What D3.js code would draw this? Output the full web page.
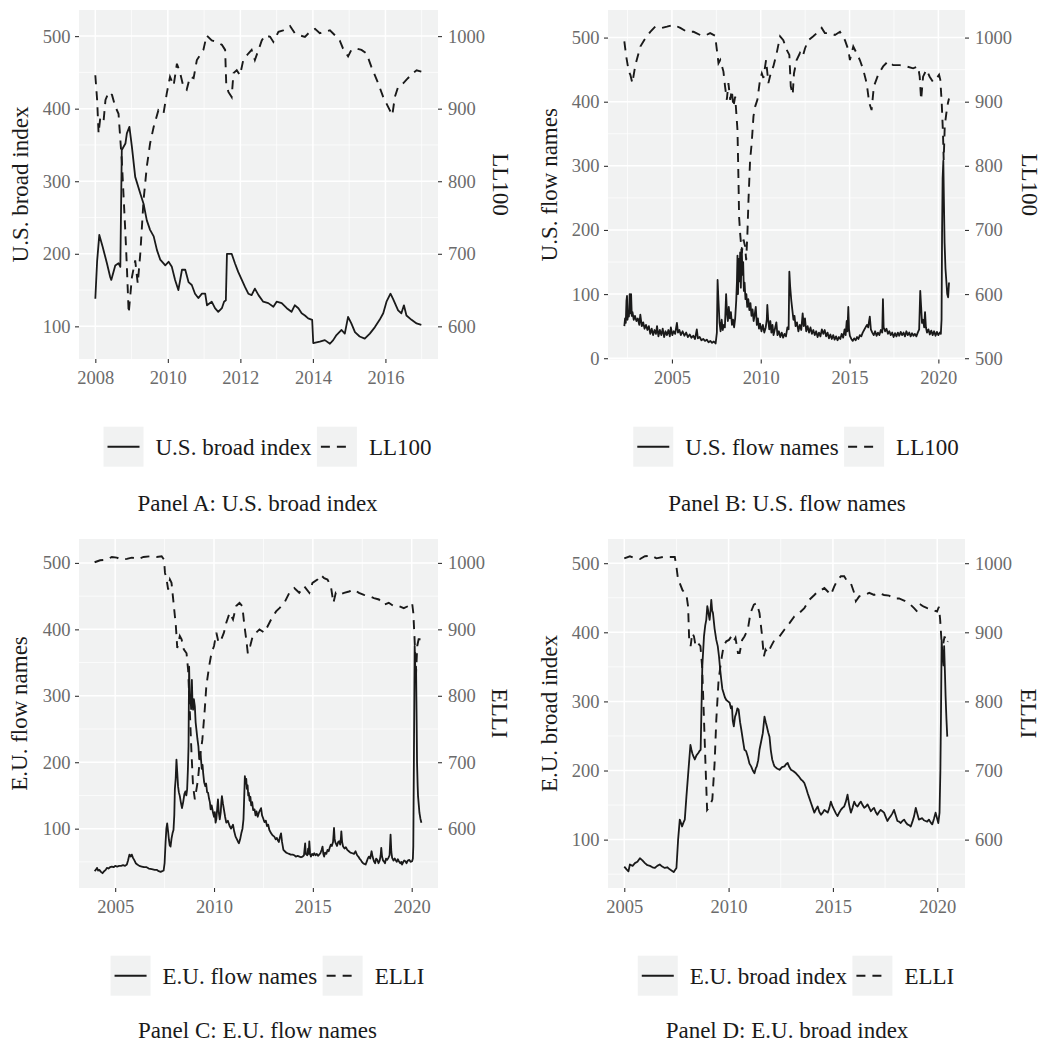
<!DOCTYPE html>
<html>
<head>
<meta charset="utf-8">
<script src="https://cdn.jsdelivr.net/npm/d3@7"></script>
<style>
body{margin:0;background:#fff}
svg{display:block}
</style>
</head>
<body>
<svg id="chart" width="1045" height="1042"></svg>
<script>
// ---- data (year, value) ----
var usBroad = [[2008.00,138],[2008.05,190],[2008.11,226],[2008.20,210],[2008.32,187],[2008.41,168],[2008.44,164],[2008.55,184],[2008.64,187],[2008.69,182],[2008.73,343],[2008.83,352],[2008.87,366],[2008.94,375],[2009.01,347],[2009.10,306],[2009.24,283],[2009.33,269],[2009.42,246],[2009.51,233],[2009.61,224],[2009.70,205],[2009.79,192],[2009.93,184],[2010.02,189],[2010.11,182],[2010.20,164],[2010.29,150],[2010.39,178],[2010.48,178],[2010.57,161],[2010.66,157],[2010.75,145],[2010.84,139],[2010.94,145],[2011.03,145],[2011.08,129],[2011.21,134],[2011.30,125],[2011.39,120],[2011.49,125],[2011.55,134],[2011.60,136],[2011.63,200],[2011.76,200],[2011.85,187],[2011.94,175],[2012.04,164],[2012.13,154],[2012.22,145],[2012.31,143],[2012.40,152],[2012.50,143],[2012.63,134],[2012.77,132],[2012.91,127],[2013.00,134],[2013.14,132],[2013.28,125],[2013.41,120],[2013.50,129],[2013.60,125],[2013.69,118],[2013.78,115],[2013.87,111],[2013.98,109],[2014.01,77],[2014.19,79],[2014.33,81],[2014.47,76],[2014.56,81],[2014.65,88],[2014.79,95],[2014.88,90],[2014.97,113],[2015.06,104],[2015.16,92],[2015.29,86],[2015.43,83],[2015.57,90],[2015.71,99],[2015.84,109],[2015.94,118],[2016.03,134],[2016.14,145],[2016.21,138],[2016.35,122],[2016.44,118],[2016.51,129],[2016.58,115],[2016.72,109],[2016.86,104],[2016.99,102]];
var usBroadLL100 = [[2008.00,946],[2008.05,912],[2008.09,866],[2008.14,889],[2008.23,884],[2008.28,912],[2008.37,923],[2008.46,919],[2008.55,903],[2008.64,893],[2008.73,829],[2008.83,728],[2008.87,682],[2008.92,618],[2009.01,668],[2009.10,691],[2009.17,659],[2009.24,700],[2009.33,774],[2009.42,820],[2009.51,852],[2009.61,875],[2009.74,898],[2009.88,893],[2009.97,921],[2010.06,944],[2010.16,932],[2010.25,962],[2010.34,949],[2010.43,930],[2010.52,926],[2010.61,944],[2010.71,942],[2010.80,967],[2010.89,974],[2010.98,981],[2011.07,1001],[2011.21,994],[2011.35,992],[2011.49,988],[2011.58,981],[2011.61,935],[2011.67,923],[2011.76,916],[2011.81,949],[2011.90,953],[2011.99,946],[2012.08,967],[2012.22,976],[2012.31,981],[2012.40,967],[2012.50,981],[2012.59,994],[2012.68,1001],[2012.82,999],[2012.91,992],[2013.05,1006],[2013.18,1008],[2013.37,1014],[2013.50,1004],[2013.64,1001],[2013.78,999],[2013.92,1006],[2014.06,1010],[2014.19,1004],[2014.33,1006],[2014.47,1008],[2014.61,1001],[2014.74,994],[2014.83,983],[2014.97,972],[2015.06,981],[2015.20,983],[2015.34,981],[2015.48,976],[2015.61,958],[2015.71,946],[2015.80,935],[2015.94,916],[2016.03,907],[2016.12,898],[2016.19,891],[2016.26,916],[2016.35,930],[2016.49,935],[2016.62,942],[2016.76,949],[2016.86,953],[2016.99,951]];

var usFlow = [[2002.32,50],[2002.36,62],[2002.40,55],[2002.44,90],[2002.47,97],[2002.50,60],[2002.54,72],[2002.58,65],[2002.62,100],[2002.66,70],[2002.70,100],[2002.74,66],[2002.78,72],[2002.85,60],[2002.92,66],[2003.00,58],[2003.08,62],[2003.16,52],[2003.22,68],[2003.30,50],[2003.38,56],[2003.46,46],[2003.54,52],[2003.62,44],[2003.70,50],[2003.78,38],[2003.86,46],[2003.94,36],[2004.02,44],[2004.10,38],[2004.16,50],[2004.24,34],[2004.32,44],[2004.40,36],[2004.48,46],[2004.56,33],[2004.64,42],[2004.72,36],[2004.80,44],[2004.88,34],[2004.94,48],[2005.02,36],[2005.10,42],[2005.18,38],[2005.28,55],[2005.34,40],[2005.42,44],[2005.50,36],[2005.60,42],[2005.70,35],[2005.80,40],[2005.90,33],[2006.00,37],[2006.10,32],[2006.20,35],[2006.30,30],[2006.40,45],[2006.46,31],[2006.56,33],[2006.66,28],[2006.76,30],[2006.86,27],[2006.96,29],[2007.06,25],[2007.16,27],[2007.26,24],[2007.36,26],[2007.46,23],[2007.53,40],[2007.57,122],[2007.62,90],[2007.68,55],[2007.74,42],[2007.80,60],[2007.86,44],[2007.92,52],[2007.98,48],[2008.05,100],[2008.10,70],[2008.15,58],[2008.20,80],[2008.26,62],[2008.32,72],[2008.38,52],[2008.44,60],[2008.50,48],[2008.56,62],[2008.62,90],[2008.66,120],[2008.69,160],[2008.72,100],[2008.76,155],[2008.80,120],[2008.84,165],[2008.88,110],[2008.93,172],[2008.97,130],[2009.01,150],[2009.05,105],[2009.09,118],[2009.14,92],[2009.19,100],[2009.24,80],[2009.30,92],[2009.36,75],[2009.42,86],[2009.48,66],[2009.54,76],[2009.60,58],[2009.66,68],[2009.72,80],[2009.78,52],[2009.84,62],[2009.90,46],[2009.96,54],[2010.04,42],[2010.12,52],[2010.20,40],[2010.28,48],[2010.34,60],[2010.37,83],[2010.42,60],[2010.48,45],[2010.54,58],[2010.60,40],[2010.66,52],[2010.72,36],[2010.80,46],[2010.88,56],[2010.94,36],[2011.02,42],[2011.10,33],[2011.18,40],[2011.26,32],[2011.34,38],[2011.42,34],[2011.50,48],[2011.57,45],[2011.61,135],[2011.66,110],[2011.72,90],[2011.78,75],[2011.84,60],[2011.90,66],[2011.96,50],[2012.04,56],[2012.12,42],[2012.20,52],[2012.28,44],[2012.36,70],[2012.42,50],[2012.49,62],[2012.56,42],[2012.64,50],[2012.72,40],[2012.80,48],[2012.88,38],[2012.96,44],[2013.04,36],[2013.12,42],[2013.20,33],[2013.28,40],[2013.36,34],[2013.44,45],[2013.52,38],[2013.60,44],[2013.68,34],[2013.76,40],[2013.84,31],[2013.92,37],[2014.00,30],[2014.08,36],[2014.16,29],[2014.24,34],[2014.32,28],[2014.40,33],[2014.48,30],[2014.56,38],[2014.64,32],[2014.72,45],[2014.78,36],[2014.84,58],[2014.88,42],[2014.93,80],[2014.97,45],[2015.02,35],[2015.10,30],[2015.18,27],[2015.26,31],[2015.34,28],[2015.42,33],[2015.50,30],[2015.58,36],[2015.66,34],[2015.74,40],[2015.82,44],[2015.90,48],[2015.98,52],[2016.05,48],[2016.10,58],[2016.14,65],[2016.20,45],[2016.28,40],[2016.36,36],[2016.44,42],[2016.52,35],[2016.60,40],[2016.68,36],[2016.76,44],[2016.84,40],[2016.88,92],[2016.92,48],[2017.00,42],[2017.08,46],[2017.16,38],[2017.24,42],[2017.32,36],[2017.40,40],[2017.48,33],[2017.56,39],[2017.64,34],[2017.72,40],[2017.80,35],[2017.88,41],[2017.96,36],[2018.04,40],[2018.12,34],[2018.20,42],[2018.28,36],[2018.36,40],[2018.44,34],[2018.52,39],[2018.60,35],[2018.68,38],[2018.76,34],[2018.84,40],[2018.92,45],[2018.98,105],[2019.03,80],[2019.08,55],[2019.14,60],[2019.20,48],[2019.25,72],[2019.30,48],[2019.36,40],[2019.44,45],[2019.52,37],[2019.60,43],[2019.68,36],[2019.76,42],[2019.84,35],[2019.92,41],[2020.00,36],[2020.08,40],[2020.14,38],[2020.18,60],[2020.21,200],[2020.24,280],[2020.28,308],[2020.31,250],[2020.35,180],[2020.40,140],[2020.45,120],[2020.50,100],[2020.55,95],[2020.60,118]];
var usFlowLL100 = [[2002.32,994],[2002.43,970],[2002.57,947],[2002.66,942],[2002.77,929],[2002.94,957],[2003.22,986],[2003.50,999],[2003.78,1009],[2004.06,1017],[2004.44,1015],[2004.72,1017],[2005.09,1020],[2005.47,1015],[2005.84,1009],[2006.22,1009],[2006.59,1004],[2006.87,1003],[2007.15,1007],[2007.43,1003],[2007.53,981],[2007.62,960],[2007.72,965],[2007.90,947],[2007.99,924],[2008.09,903],[2008.18,929],[2008.28,903],[2008.37,918],[2008.46,892],[2008.56,908],[2008.69,856],[2008.75,773],[2008.78,721],[2008.84,695],[2008.93,664],[2009.03,685],[2009.12,674],[2009.18,653],[2009.25,695],[2009.31,747],[2009.40,809],[2009.49,835],[2009.59,877],[2009.68,892],[2009.81,903],[2009.96,934],[2010.06,944],[2010.15,937],[2010.30,965],[2010.43,929],[2010.56,944],[2010.71,955],[2010.90,976],[2011.09,1002],[2011.27,996],[2011.46,981],[2011.61,973],[2011.69,924],[2011.80,911],[2011.87,944],[2012.02,965],[2012.21,976],[2012.36,970],[2012.49,983],[2012.68,996],[2012.96,1002],[2013.24,1009],[2013.43,1015],[2013.61,1007],[2013.90,1007],[2014.18,1004],[2014.46,1009],[2014.74,996],[2014.93,981],[2015.02,965],[2015.21,986],[2015.39,976],[2015.58,965],[2015.77,950],[2015.96,929],[2016.11,898],[2016.24,887],[2016.37,924],[2016.61,942],[2016.89,955],[2017.17,963],[2017.45,957],[2017.83,957],[2018.20,955],[2018.58,952],[2018.86,955],[2018.95,939],[2019.03,903],[2019.14,939],[2019.33,950],[2019.51,939],[2019.70,931],[2019.89,936],[2020.04,942],[2020.11,934],[2020.19,898],[2020.26,851],[2020.30,809],[2020.36,862],[2020.45,882],[2020.54,898],[2020.60,905]];

var euFlow = [[2003.96,36],[2004.02,38],[2004.08,41],[2004.14,37],[2004.20,38],[2004.28,35],[2004.36,33],[2004.44,36],[2004.52,38],[2004.58,41],[2004.66,40],[2004.74,42],[2004.83,43],[2004.92,42],[2005.00,44],[2005.10,43],[2005.20,44],[2005.30,44],[2005.40,45],[2005.50,44],[2005.59,46],[2005.65,52],[2005.72,61],[2005.78,58],[2005.84,61],[2005.90,56],[2005.96,53],[2006.04,48],[2006.12,46],[2006.22,44],[2006.34,43],[2006.46,42],[2006.59,42],[2006.70,40],[2006.85,39],[2007.00,38],[2007.10,38],[2007.20,36],[2007.30,35],[2007.38,36],[2007.45,37],[2007.50,48],[2007.55,80],[2007.59,100],[2007.63,108],[2007.68,95],[2007.72,83],[2007.76,75],[2007.80,73],[2007.85,85],[2007.90,93],[2007.95,98],[2007.99,120],[2008.02,160],[2008.06,175],[2008.10,204],[2008.14,185],[2008.18,164],[2008.22,155],[2008.27,149],[2008.32,140],[2008.38,131],[2008.44,140],[2008.50,152],[2008.55,156],[2008.60,150],[2008.64,159],[2008.68,190],[2008.71,224],[2008.74,344],[2008.77,300],[2008.81,299],[2008.84,280],[2008.88,324],[2008.91,290],[2008.94,279],[2008.98,295],[2009.03,284],[2009.07,260],[2009.11,249],[2009.16,235],[2009.21,224],[2009.25,205],[2009.29,215],[2009.33,209],[2009.38,190],[2009.42,196],[2009.45,184],[2009.50,170],[2009.56,164],[2009.60,168],[2009.65,155],[2009.70,154],[2009.75,145],[2009.79,140],[2009.83,129],[2009.88,135],[2009.95,124],[2010.00,118],[2010.04,125],[2010.08,109],[2010.12,115],[2010.16,130],[2010.20,144],[2010.24,125],[2010.29,114],[2010.34,125],[2010.37,140],[2010.40,149],[2010.45,138],[2010.50,129],[2010.56,118],[2010.62,109],[2010.70,112],[2010.79,104],[2010.86,100],[2010.96,106],[2011.02,96],[2011.09,88],[2011.16,84],[2011.22,80],[2011.26,78],[2011.32,84],[2011.38,93],[2011.44,100],[2011.49,114],[2011.53,150],[2011.56,179],[2011.60,168],[2011.63,175],[2011.66,160],[2011.70,165],[2011.73,150],[2011.76,154],[2011.80,142],[2011.84,148],[2011.88,135],[2011.93,140],[2011.98,128],[2012.05,129],[2012.10,120],[2012.15,126],[2012.21,118],[2012.27,124],[2012.33,128],[2012.38,131],[2012.43,120],[2012.48,116],[2012.55,110],[2012.62,112],[2012.68,104],[2012.74,106],[2012.80,98],[2012.89,93],[2012.96,90],[2013.05,88],[2013.12,84],[2013.18,86],[2013.22,83],[2013.28,80],[2013.34,88],[2013.39,93],[2013.44,80],[2013.51,68],[2013.58,66],[2013.65,64],[2013.72,63],[2013.80,62],[2013.88,61],[2013.98,61],[2014.06,60],[2014.14,58],[2014.23,59],[2014.32,58],[2014.40,57],[2014.48,58],[2014.55,60],[2014.61,78],[2014.64,62],[2014.68,61],[2014.72,60],[2014.76,70],[2014.79,62],[2014.82,81],[2014.86,62],[2014.90,58],[2014.96,62],[2015.02,60],[2015.07,63],[2015.14,60],[2015.20,62],[2015.26,59],[2015.32,61],[2015.38,63],[2015.44,68],[2015.49,73],[2015.53,62],[2015.57,58],[2015.62,64],[2015.68,62],[2015.74,68],[2015.80,66],[2015.86,72],[2015.91,76],[2015.96,74],[2016.02,80],[2016.05,92],[2016.07,101],[2016.10,85],[2016.13,80],[2016.16,78],[2016.22,74],[2016.28,80],[2016.33,81],[2016.38,76],[2016.42,86],[2016.44,96],[2016.48,80],[2016.53,73],[2016.60,70],[2016.67,72],[2016.74,68],[2016.82,66],[2016.90,64],[2017.00,63],[2017.08,62],[2017.16,66],[2017.24,60],[2017.30,58],[2017.36,55],[2017.42,53],[2017.48,50],[2017.54,48],[2017.60,47],[2017.67,46],[2017.72,50],[2017.78,55],[2017.84,58],[2017.90,55],[2017.97,66],[2018.02,58],[2018.09,51],[2018.15,48],[2018.20,55],[2018.26,53],[2018.32,48],[2018.38,52],[2018.43,60],[2018.46,71],[2018.50,58],[2018.55,52],[2018.59,51],[2018.65,48],[2018.70,55],[2018.76,53],[2018.82,56],[2018.88,60],[2018.93,91],[2018.97,65],[2019.01,56],[2019.08,52],[2019.14,55],[2019.18,53],[2019.24,50],[2019.30,54],[2019.35,51],[2019.42,48],[2019.48,50],[2019.51,46],[2019.56,49],[2019.62,52],[2019.68,51],[2019.74,48],[2019.80,52],[2019.88,53],[2019.94,50],[2020.02,51],[2020.06,55],[2020.08,73],[2020.11,200],[2020.15,375],[2020.19,330],[2020.22,344],[2020.25,260],[2020.27,199],[2020.30,165],[2020.32,149],[2020.36,135],[2020.39,124],[2020.44,115],[2020.49,109]];
var euFlowELLI = [[2003.96,1001],[2004.24,1004],[2004.58,1005],[2004.83,1009],[2005.08,1008],[2005.34,1005],[2005.59,1006],[2005.84,1008],[2006.17,1006],[2006.43,1009],[2006.76,1010],[2007.10,1009],[2007.35,1010],[2007.47,1005],[2007.52,985],[2007.60,975],[2007.68,960],[2007.77,975],[2007.85,970],[2007.97,935],[2008.07,905],[2008.14,872],[2008.27,890],[2008.36,885],[2008.47,870],[2008.61,864],[2008.69,839],[2008.78,774],[2008.86,714],[2008.94,664],[2009.03,644],[2009.11,659],[2009.19,674],[2009.28,704],[2009.41,734],[2009.53,779],[2009.61,814],[2009.75,844],[2009.87,864],[2010.00,875],[2010.12,895],[2010.23,880],[2010.37,885],[2010.50,895],[2010.62,910],[2010.79,925],[2010.96,915],[2011.12,935],[2011.29,940],[2011.43,935],[2011.54,905],[2011.63,885],[2011.71,864],[2011.83,875],[2011.96,890],[2012.13,895],[2012.30,900],[2012.55,895],[2012.72,905],[2012.89,915],[2013.14,927],[2013.31,932],[2013.56,940],[2013.81,955],[2014.06,962],[2014.31,955],[2014.56,965],[2014.82,955],[2014.98,970],[2015.23,975],[2015.40,982],[2015.57,977],[2015.74,975],[2015.91,965],[2016.04,940],[2016.16,955],[2016.33,952],[2016.58,955],[2016.83,957],[2017.08,960],[2017.33,955],[2017.58,952],[2017.84,950],[2018.09,947],[2018.34,945],[2018.59,937],[2018.84,940],[2019.09,935],[2019.35,935],[2019.60,932],[2019.82,935],[2020.02,940],[2020.08,925],[2020.13,895],[2020.22,834],[2020.28,875],[2020.35,885],[2020.49,885]];

var euBroad = [[2005.00,61],[2005.11,57],[2005.20,54],[2005.27,64],[2005.40,62],[2005.51,66],[2005.63,68],[2005.75,73],[2005.87,70],[2005.99,66],[2006.11,63],[2006.23,62],[2006.35,60],[2006.46,59],[2006.58,62],[2006.70,64],[2006.82,61],[2006.94,59],[2007.06,60],[2007.18,57],[2007.28,55],[2007.37,53],[2007.50,59],[2007.58,100],[2007.66,129],[2007.72,124],[2007.77,119],[2007.84,125],[2007.90,129],[2007.98,163],[2008.09,206],[2008.17,237],[2008.22,230],[2008.26,225],[2008.32,220],[2008.38,216],[2008.46,222],[2008.54,225],[2008.60,228],[2008.66,230],[2008.74,351],[2008.82,394],[2008.88,410],[2008.93,418],[2008.98,438],[2009.01,433],[2009.05,425],[2009.09,418],[2009.13,430],[2009.17,447],[2009.21,432],[2009.25,428],[2009.33,405],[2009.41,389],[2009.48,380],[2009.54,365],[2009.60,345],[2009.65,331],[2009.70,318],[2009.76,312],[2009.82,306],[2009.89,302],[2009.97,300],[2010.05,298],[2010.11,290],[2010.16,293],[2010.20,272],[2010.25,264],[2010.31,278],[2010.37,283],[2010.42,290],[2010.48,288],[2010.55,270],[2010.61,259],[2010.68,245],[2010.76,230],[2010.84,228],[2010.92,220],[2011.00,210],[2011.08,206],[2011.16,200],[2011.24,196],[2011.30,203],[2011.35,206],[2011.42,215],[2011.48,230],[2011.56,242],[2011.64,254],[2011.72,278],[2011.78,270],[2011.83,264],[2011.90,255],[2011.96,249],[2012.02,230],[2012.09,216],[2012.15,210],[2012.20,206],[2012.32,203],[2012.44,201],[2012.56,205],[2012.68,206],[2012.75,209],[2012.83,211],[2012.91,205],[2012.99,201],[2013.11,199],[2013.23,196],[2013.35,192],[2013.47,187],[2013.55,185],[2013.63,182],[2013.71,175],[2013.79,167],[2013.87,160],[2013.95,153],[2014.03,146],[2014.11,139],[2014.19,144],[2014.27,148],[2014.35,140],[2014.43,136],[2014.51,139],[2014.59,143],[2014.67,141],[2014.75,139],[2014.83,146],[2014.90,155],[2014.98,148],[2015.06,143],[2015.14,138],[2015.22,134],[2015.30,139],[2015.38,143],[2015.46,146],[2015.54,148],[2015.62,155],[2015.70,165],[2015.78,150],[2015.86,139],[2015.94,146],[2016.02,155],[2016.10,150],[2016.18,148],[2016.26,152],[2016.34,155],[2016.42,150],[2016.50,146],[2016.58,148],[2016.66,151],[2016.74,146],[2016.82,141],[2016.90,144],[2016.97,146],[2017.05,140],[2017.13,136],[2017.21,140],[2017.29,143],[2017.37,141],[2017.45,139],[2017.53,133],[2017.61,127],[2017.69,131],[2017.77,134],[2017.85,138],[2017.93,143],[2018.01,135],[2018.09,127],[2018.17,126],[2018.25,124],[2018.33,127],[2018.41,129],[2018.49,125],[2018.57,122],[2018.65,121],[2018.73,119],[2018.81,126],[2018.89,134],[2018.97,146],[2019.04,138],[2019.12,129],[2019.20,130],[2019.28,131],[2019.36,128],[2019.44,127],[2019.52,126],[2019.60,129],[2019.68,125],[2019.76,122],[2019.84,130],[2019.92,139],[2019.98,132],[2020.05,124],[2020.11,139],[2020.15,200],[2020.18,283],[2020.21,389],[2020.24,372],[2020.27,365],[2020.30,352],[2020.33,380],[2020.37,340],[2020.40,307],[2020.44,275],[2020.48,249]];
var euBroadELLI = [[2005.00,1007],[2005.27,1010],[2005.51,1007],[2005.75,1006],[2005.99,1010],[2006.31,1011],[2006.54,1007],[2006.86,1009],[2007.18,1009],[2007.42,1009],[2007.50,995],[2007.58,976],[2007.66,971],[2007.79,961],[2007.98,954],[2008.06,937],[2008.11,889],[2008.18,880],[2008.26,899],[2008.34,894],[2008.42,880],[2008.54,884],[2008.65,880],[2008.73,851],[2008.81,783],[2008.89,711],[2008.97,643],[2009.09,648],[2009.22,658],[2009.33,711],[2009.41,773],[2009.52,831],[2009.65,860],[2009.76,880],[2009.89,887],[2010.02,889],[2010.13,894],[2010.24,887],[2010.33,892],[2010.45,870],[2010.53,870],[2010.65,889],[2010.76,894],[2010.92,904],[2011.05,928],[2011.21,940],[2011.35,942],[2011.48,928],[2011.59,899],[2011.69,865],[2011.77,875],[2011.88,870],[2012.04,880],[2012.20,889],[2012.44,894],[2012.68,904],[2012.91,913],[2013.15,923],[2013.39,928],[2013.63,935],[2013.87,947],[2014.11,954],[2014.27,959],[2014.43,961],[2014.59,964],[2014.75,959],[2014.90,954],[2015.06,966],[2015.22,976],[2015.38,981],[2015.54,981],[2015.70,973],[2015.86,971],[2016.02,957],[2016.10,945],[2016.26,952],[2016.50,954],[2016.74,957],[2016.97,954],[2017.21,957],[2017.45,954],[2017.69,953],[2017.93,949],[2018.17,949],[2018.41,946],[2018.65,942],[2018.89,935],[2019.04,930],[2019.20,940],[2019.36,937],[2019.52,935],[2019.76,933],[2019.99,930],[2020.08,937],[2020.14,918],[2020.19,894],[2020.24,870],[2020.29,884],[2020.35,894],[2020.45,884],[2020.51,887]];

// ---- tick labels ----
var yearTicksA = [2008, 2010, 2012, 2014, 2016];
var yearTicks = [2005, 2010, 2015, 2020];
var leftTicksA = [100, 200, 300, 400, 500];
var leftTicksB = [0, 100, 200, 300, 400, 500];
var rightTicksA = [600, 700, 800, 900, 1000];
var rightTicksB = [500, 600, 700, 800, 900, 1000];

var FONT = '"Liberation Serif", "Times New Roman", Times, serif';
var INK = "#1a1a1a";
var PANEL_BG = "#f1f2f2";
var DASH = "9,7";

var svg = d3.select("#chart");
svg.append("rect").attr("width", 1045).attr("height", 1042).attr("fill", "#fff");

var panels = [
  {x0: 79, x1: 438, y0: 10, y1: 359, xDom: [2007.55, 2017.45], yDom: [55, 536],
   xTicks: yearTicksA, xMinor: [2009, 2011, 2013, 2015, 2017], yTicks: leftTicksA, yMinor: [150, 250, 350, 450],
   rTicks: rightTicksA, solid: usBroad, dashed: usBroadLL100,
   yTitle: "U.S. broad index", rTitle: "LL100", yTitleX: 28, rTitleX: 493,
   legCx: 267.5, legCy: 446.7, title: "Panel A: U.S. broad index", titleX: 257.5, titleY: 511},
  {x0: 608, x1: 965, y0: 10, y1: 359.5, xDom: [2001.4, 2021.5], yDom: [-2, 543],
   xTicks: yearTicks, xMinor: [2002.5, 2007.5, 2012.5, 2017.5], yTicks: leftTicksB, yMinor: [50, 150, 250, 350, 450],
   rTicks: rightTicksB, solid: usFlow, dashed: usFlowLL100,
   yTitle: "U.S. flow names", rTitle: "LL100", yTitleX: 556.5, rTitleX: 1021.5,
   legCx: 796, legCy: 446.7, title: "Panel B: U.S. flow names", titleX: 787, titleY: 511},
  {x0: 79, x1: 438, y0: 539, y1: 888, xDom: [2003.17, 2021.33], yDom: [10.7, 536],
   xTicks: yearTicks, xMinor: [2007.5, 2012.5, 2017.5], yTicks: leftTicksA, yMinor: [50, 150, 250, 350, 450],
   rTicks: rightTicksA, solid: euFlow, dashed: euFlowELLI,
   yTitle: "E.U. flow names", rTitle: "ELLI", yTitleX: 27, rTitleX: 492,
   legCx: 267.5, legCy: 975.7, title: "Panel C: E.U. flow names", titleX: 257.5, titleY: 1038},
  {x0: 608, x1: 965, y0: 539, y1: 888, xDom: [2004.22, 2021.33], yDom: [30, 535],
   xTicks: yearTicks, xMinor: [2007.5, 2012.5, 2017.5], yTicks: leftTicksA, yMinor: [50, 150, 250, 350, 450],
   rTicks: rightTicksA, solid: euBroad, dashed: euBroadELLI,
   yTitle: "E.U. broad index", rTitle: "ELLI", yTitleX: 556.5, rTitleX: 1020.5,
   legCx: 796, legCy: 975.7, title: "Panel D: E.U. broad index", titleX: 787, titleY: 1038}
];

function styleAxis(g) {
  g.select(".domain").remove();
  g.selectAll(".tick line").attr("stroke", "#333").attr("stroke-width", 1.1);
  g.selectAll(".tick text").attr("fill", "#6b6b6b").style("font-family", FONT).style("font-size", "18.5px");
}

function drawPanel(p) {
  var x = d3.scaleLinear().domain(p.xDom).range([p.x0, p.x1]);
  var y = d3.scaleLinear().domain(p.yDom).range([p.y1, p.y0]);
  // secondary axis is the primary one shifted by 500
  var yr = d3.scaleLinear().domain([p.yDom[0] + 500, p.yDom[1] + 500]).range([p.y1, p.y0]);
  var fmt = d3.format("d");

  var g = svg.append("g");
  g.append("rect").attr("x", p.x0).attr("y", p.y0)
    .attr("width", p.x1 - p.x0).attr("height", p.y1 - p.y0).attr("fill", PANEL_BG);

  // grid
  g.selectAll(".gxm").data(p.xMinor).enter().append("line")
    .attr("x1", x).attr("x2", x).attr("y1", p.y0).attr("y2", p.y1)
    .attr("stroke", "#fff").attr("stroke-width", 0.7);
  g.selectAll(".gym").data(p.yMinor).enter().append("line")
    .attr("y1", y).attr("y2", y).attr("x1", p.x0).attr("x2", p.x1)
    .attr("stroke", "#fff").attr("stroke-width", 0.7);
  g.selectAll(".gx").data(p.xTicks).enter().append("line")
    .attr("x1", x).attr("x2", x).attr("y1", p.y0).attr("y2", p.y1)
    .attr("stroke", "#fff").attr("stroke-width", 1.5);
  g.selectAll(".gy").data(p.yTicks).enter().append("line")
    .attr("y1", y).attr("y2", y).attr("x1", p.x0).attr("x2", p.x1)
    .attr("stroke", "#fff").attr("stroke-width", 1.5);

  // series
  var lineL = d3.line().x(function(d) { return x(d[0]); }).y(function(d) { return y(d[1]); });
  var lineR = d3.line().x(function(d) { return x(d[0]); }).y(function(d) { return yr(d[1]); });
  g.append("path").datum(p.dashed).attr("d", lineR)
    .attr("fill", "none").attr("stroke", INK).attr("stroke-width", 1.9)
    .attr("stroke-dasharray", DASH);
  g.append("path").datum(p.solid).attr("d", lineL)
    .attr("fill", "none").attr("stroke", INK).attr("stroke-width", 1.8)
    .attr("stroke-linejoin", "round");

  // axes
  g.append("g").attr("transform", "translate(0," + p.y1 + ")")
    .call(d3.axisBottom(x).tickValues(p.xTicks).tickFormat(fmt).tickSize(4).tickPadding(7.5))
    .call(styleAxis);
  g.append("g").attr("transform", "translate(" + p.x0 + ",0)")
    .call(d3.axisLeft(y).tickValues(p.yTicks).tickFormat(fmt).tickSize(4).tickPadding(4.5))
    .call(styleAxis);
  g.append("g").attr("transform", "translate(" + p.x1 + ",0)")
    .call(d3.axisRight(yr).tickValues(p.rTicks).tickFormat(fmt).tickSize(4).tickPadding(6))
    .call(styleAxis);

  var cy = (p.y0 + p.y1) / 2;
  g.append("text").attr("transform", "translate(" + p.yTitleX + "," + cy + ") rotate(-90)")
    .attr("text-anchor", "middle").attr("fill", INK)
    .style("font-family", FONT).style("font-size", "23px").text(p.yTitle);
  g.append("text").attr("transform", "translate(" + p.rTitleX + "," + cy + ") rotate(90)")
    .attr("text-anchor", "middle").attr("fill", INK)
    .style("font-family", FONT).style("font-size", "23px").text(p.rTitle);

  // legend
  var leg = g.append("g");
  var items = [{label: p.yTitle, dash: null}, {label: p.rTitle, dash: DASH}];
  var cursor = 0;
  items.forEach(function(it, i) {
    var ig = leg.append("g").attr("transform", "translate(" + cursor + ",0)");
    ig.append("rect").attr("x", 0).attr("y", -20).attr("width", 40).attr("height", 40).attr("fill", PANEL_BG);
    ig.append("line").attr("x1", 4).attr("x2", 36).attr("y1", 0).attr("y2", 0)
      .attr("stroke", INK).attr("stroke-width", 1.9)
      .attr("stroke-dasharray", it.dash);
    var t = ig.append("text").attr("x", 52).attr("y", 8).attr("fill", INK)
      .style("font-family", FONT).style("font-size", "23px").text(it.label);
    cursor += 52 + t.node().getComputedTextLength() + (i === 0 ? 5.5 : 0);
  });
  leg.attr("transform", "translate(" + (p.legCx - cursor / 2) + "," + p.legCy + ")");

  g.append("text").attr("x", p.titleX).attr("y", p.titleY).attr("text-anchor", "middle")
    .attr("fill", INK).style("font-family", FONT).style("font-size", "23px").text(p.title);
}

panels.forEach(drawPanel);
</script>
</body>
</html>
